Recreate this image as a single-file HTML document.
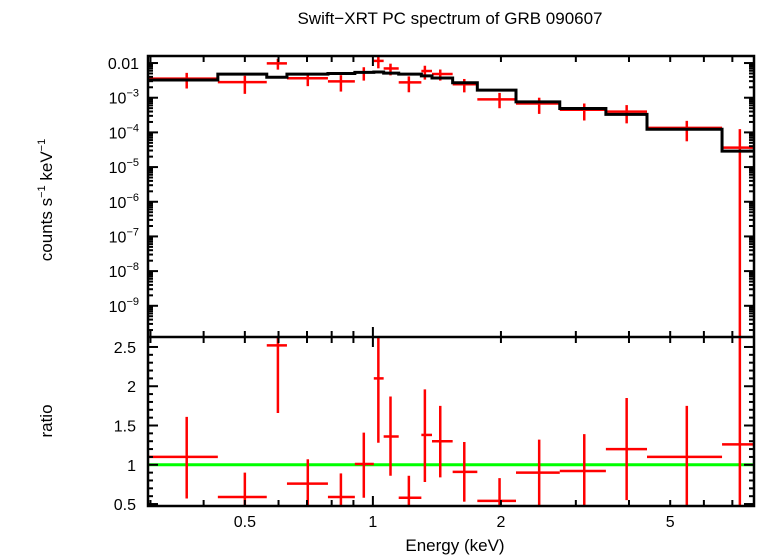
<!DOCTYPE html>
<html><head><meta charset="utf-8"><style>
body{margin:0;background:#fff;}
svg{display:block;font-family:"Liberation Sans",sans-serif;}
</style></head><body>
<svg id="chart" width="758" height="556"></svg>
<script>
const binLo=[0.296,0.432,0.563,0.628,0.784,0.907,1.005,1.06,1.15,1.30,1.377,1.54,1.76,2.17,2.75,3.53,4.41,6.62];
const binHi=[0.432,0.563,0.628,0.784,0.907,1.005,1.06,1.15,1.30,1.377,1.54,1.76,2.17,2.75,3.53,4.41,6.62,7.87];
const binMid=[0.365,0.500,0.598,0.703,0.841,0.952,1.03,1.10,1.215,1.325,1.44,1.64,1.985,2.46,3.14,3.95,5.47,7.29];
const modelLog=[-2.49,-2.32,-2.41,-2.32,-2.30,-2.27,-2.26,-2.29,-2.32,-2.37,-2.43,-2.57,-2.78,-3.12,-3.31,-3.48,-3.91,-4.54];
const ratio=[1.10,0.59,2.52,0.76,0.59,1.01,2.10,1.36,0.58,1.38,1.30,0.91,0.54,0.90,0.92,1.20,1.10,1.26];
const ratioLo=[0.57,0.27,1.66,0.45,0.30,0.58,1.28,0.86,0.30,0.78,0.84,0.53,0.30,0.45,0.45,0.55,0.45,0];
const ratioHi=[1.61,0.90,3.40,1.07,0.89,1.41,2.90,1.87,0.86,1.96,1.75,1.29,0.83,1.32,1.39,1.85,1.75,4.3];
const xTickLabels=[0.5,1,2,5];
const ratioTicks=[0.5,1,1.5,2,2.5];

const NS="http://www.w3.org/2000/svg";
const svg=document.getElementById('chart');
const L=148,R=754,T1=56,B1=337,T2=337,B2=506;
const xMin=Math.log10(0.296),xMax=Math.log10(7.87);
const X=e=>L+(Math.log10(e)-xMin)/(xMax-xMin)*(R-L);
const yTopMax=-1.797,yTopMin=-9.90;
const Y1=lg=>T1+(yTopMax-lg)/(yTopMax-yTopMin)*(B1-T1);
const rMax=2.627,rMin=0.475;
const Y2=r=>T2+(rMax-r)/(rMax-rMin)*(B2-T2);
function mk(tag,attrs,parent){const e=document.createElementNS(NS,tag);for(const k in attrs)e.setAttribute(k,attrs[k]);(parent||svg).appendChild(e);return e;}
function clip(v,a,b){return Math.max(a,Math.min(b,v));}

// title
let t=mk('text',{x:450,y:24,'text-anchor':'middle','font-size':17});
t.textContent='Swift\u2212XRT PC spectrum of GRB 090607';



// data top panel
const gD=mk('g',{});


for(let i=0;i<ratio.length;i++){
  const c=modelLog[i]+Math.log10(ratio[i]);
  const y=Y1(c);
  const yh=clip(Y1(c+Math.log10(ratioHi[i]/ratio[i])),T1,B1);
  const yl=ratioLo[i]>0?clip(Y1(c+Math.log10(ratioLo[i]/ratio[i])),T1,B1):B1;
  const g=mk('g',{stroke:'#ff0000','stroke-width':2.5},gD);
  
  
  mk('line',{x1:X(binLo[i]),x2:clip(X(binHi[i]),L,R),y1:y,y2:y},g);
  mk('line',{x1:X(binMid[i]),x2:X(binMid[i]),y1:yh,y2:yl},g);
}
// model step
let d='';
for(let i=0;i<modelLog.length;i++){
  const y=Y1(modelLog[i]);
  d+=(i===0?'M':'L')+X(binLo[i])+','+y+'L'+Math.min(R,X(binHi[i]))+','+y;
}
const mp=mk('path',{d:d,fill:'none',stroke:'#000','stroke-width':3});



// ratio panel
const gl=mk('line',{x1:L,x2:R,y1:Y2(1),y2:Y2(1),stroke:'#00ff00','stroke-width':3});


const gR=mk('g',{});


for(let i=0;i<ratio.length;i++){
  const g=mk('g',{stroke:'#ff0000','stroke-width':2.5},gR);
  
  
  const y=Y2(ratio[i]);
  mk('line',{x1:X(binLo[i]),x2:clip(X(binHi[i]),L,R),y1:y,y2:y},g);
  mk('line',{x1:X(binMid[i]),x2:X(binMid[i]),y1:clip(Y2(ratioHi[i]),T2,B2),y2:clip(Y2(ratioLo[i]),T2,B2)},g);
}

// frames
const fr=mk('g',{stroke:'#000','stroke-width':2.5,fill:'none'});


mk('rect',{x:L,y:T1,width:R-L,height:B2-T1},fr);
mk('line',{x1:L,x2:R,y1:B1,y2:B1},fr);

// x ticks
const xt=[];
for(let d0=0.1;d0<=1;d0*=10)for(let k=1;k<10;k++)xt.push(+(k*d0).toFixed(3));
xt.push(10);
const tk=mk('g',{stroke:'#000','stroke-width':2});


xt.forEach(e=>{
  if(e<0.296||e>7.87)return;
  const x=X(e),len=(e===1)?10:6;
  [[T1,1],[B1,-1],[B1,1],[B2,-1]].forEach(([yy,s])=>mk('line',{x1:x,x2:x,y1:yy,y2:yy+s*len},tk));
});
xTickLabels.forEach(e=>{
  const tx=mk('text',{x:X(e),y:527,'text-anchor':'middle','font-size':16});
  tx.textContent=String(e);
  
  
});
// top y ticks
for(let p=-10;p<=-2;p++){
  for(let k=1;k<10;k++){
    const lg=p+Math.log10(k);
    if(lg>yTopMax||lg<yTopMin)continue;
    const y=Y1(lg),len=k===1?10:5;
    mk('line',{x1:L,x2:L+len,y1:y,y2:y},tk);
    mk('line',{x1:R,x2:R-len,y1:y,y2:y},tk);
  }
  if(p>=-9){
    const tx=mk('text',{x:139,y:Y1(p)+6,'text-anchor':'end','font-size':16});
    if(p===-2)tx.textContent='0.01';
    else{tx.textContent='10';const s=mk('tspan',{dy:-7,'font-size':11},tx);s.textContent='\u2212'+(-p);}
    
    
  }
}
// ratio y ticks
for(let v=0.5;v<=2.6;v+=0.1){
  const r=+v.toFixed(1),y=Y2(r),maj=Math.abs(r*2-Math.round(r*2))<1e-6,len=maj?10:5;
  mk('line',{x1:L,x2:L+len,y1:y,y2:y},tk);
  mk('line',{x1:R,x2:R-len,y1:y,y2:y},tk);
}
ratioTicks.forEach(r=>{
  const tx=mk('text',{x:136,y:Y2(r)+6,'text-anchor':'end','font-size':16});
  tx.textContent=String(r);
  
  
});
// axis titles
let yl=mk('text',{transform:'translate(52,200) rotate(-90)','text-anchor':'middle','font-size':17});
yl.textContent='counts s';let s1=mk('tspan',{dy:-7,'font-size':11},yl);s1.textContent='\u22121';
let s2=mk('tspan',{dy:7},yl);s2.textContent=' keV';let s3=mk('tspan',{dy:-7,'font-size':11},yl);s3.textContent='\u22121';


let rl=mk('text',{transform:'translate(52,421) rotate(-90)','text-anchor':'middle','font-size':17});
rl.textContent='ratio';


let xl=mk('text',{x:455,y:551,'text-anchor':'middle','font-size':17});
xl.textContent='Energy (keV)';


</script>
</body></html>
